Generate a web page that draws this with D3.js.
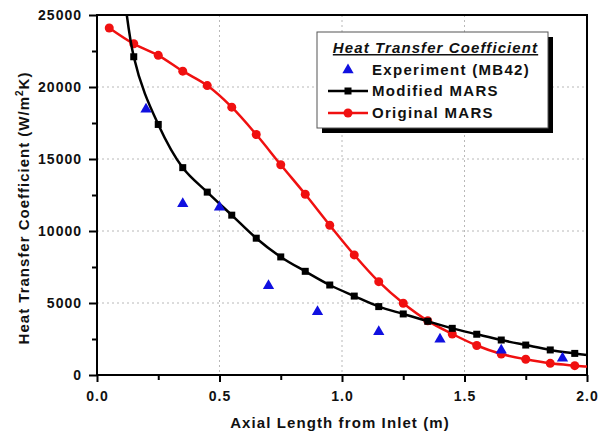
<!DOCTYPE html>
<html>
<head>
<meta charset="utf-8">
<script src="https://cdn.jsdelivr.net/npm/d3@7"></script>
<style>
  body { margin: 0; background: #fff; }
  svg { font-family: "Liberation Sans", Arial, sans-serif; }
</style>
</head>
<body>
<svg id="chart" width="605" height="437"></svg>
<script>
// data
const modX = [0.05, 0.15, 0.25, 0.35, 0.45, 0.55, 0.65, 0.75, 0.85, 0.95, 1.05, 1.15, 1.25, 1.35, 1.45, 1.55, 1.65, 1.75, 1.85, 1.95, 2.05];
const modY = [38000, 22100, 17400, 14400, 12700, 11100, 9500, 8200, 7200, 6250, 5480, 4750, 4240, 3730, 3240, 2830, 2430, 2080, 1740, 1500, 1300];
const origX = [0.05, 0.15, 0.25, 0.35, 0.45, 0.55, 0.65, 0.75, 0.85, 0.95, 1.05, 1.15, 1.25, 1.35, 1.45, 1.55, 1.65, 1.75, 1.85, 1.95, 2.05];
const origY = [24100, 23000, 22200, 21100, 20100, 18600, 16700, 14600, 12550, 10400, 8340, 6480, 4980, 3760, 2850, 2050, 1460, 1090, 810, 650, 520];
const expX = [0.2, 0.35, 0.5, 0.7, 0.9, 1.15, 1.4, 1.65, 1.9];
const expY = [18450, 11900, 11650, 6200, 4400, 3000, 2480, 1720, 1160];

const xMajor = [0.0, 0.5, 1.0, 1.5, 2.0];
const xMinor = [0.25, 0.75, 1.25, 1.75];
const yMajor = [0, 5000, 10000, 15000, 20000, 25000];
const yMinor = [2500, 7500, 12500, 17500, 22500];

const legendNames = ["Experiment (MB42)", "Modified MARS", "Original MARS"];

const red = "#f01010";
const blue = "#1010e0";

const svg = d3.select("#chart");
const pL = 97, pR = 587, pT = 15, pB = 375;

const x = d3.scaleLinear().domain([0, 2]).range([pL, pR]);
const y = d3.scaleLinear().domain([0, 25000]).range([pB, pT]);

svg.append("clipPath").attr("id", "clip")
  .append("rect")
  .attr("x", pL).attr("y", pT)
  .attr("width", pR - pL).attr("height", pB - pT);

// grid
const grid = svg.append("g")
  .attr("stroke", "#b8b8b8").attr("stroke-width", 1)
  .attr("stroke-dasharray", "2,3");
xMajor.slice(1, -1).forEach(v => {
  grid.append("line").attr("x1", x(v)).attr("x2", x(v)).attr("y1", pT).attr("y2", pB);
});
yMajor.slice(1, -1).forEach(v => {
  grid.append("line").attr("x1", pL).attr("x2", pR).attr("y1", y(v)).attr("y2", y(v));
});

// axes
function styleAxis(g) {
  g.select(".domain").remove();
  g.selectAll("line").attr("stroke", "#000").attr("stroke-width", 2);
  g.selectAll("text").attr("font-size", 14).attr("font-weight", "bold")
    .attr("letter-spacing", 1).attr("fill", "#111");
}
svg.append("g").attr("transform", `translate(0,${pB})`)
  .call(d3.axisBottom(x).tickValues(xMajor).tickFormat(d3.format(".1f")).tickSize(7).tickPadding(9))
  .call(styleAxis);
svg.append("g").attr("transform", `translate(0,${pB})`)
  .call(d3.axisBottom(x).tickValues(xMinor).tickFormat("").tickSize(5))
  .call(styleAxis);
svg.append("g").attr("transform", `translate(${pL},0)`)
  .call(d3.axisLeft(y).tickValues(yMajor).tickFormat(d3.format("d")).tickSize(8).tickPadding(7))
  .call(styleAxis);
svg.append("g").attr("transform", `translate(${pL},0)`)
  .call(d3.axisLeft(y).tickValues(yMinor).tickFormat("").tickSize(5))
  .call(styleAxis);

// frame
svg.append("rect")
  .attr("x", pL).attr("y", pT)
  .attr("width", pR - pL).attr("height", pB - pT)
  .attr("fill", "none").attr("stroke", "#000").attr("stroke-width", 2);

// series
const plot = svg.append("g").attr("clip-path", "url(#clip)");
const line = d3.line().x(d => x(d[0])).y(d => y(d[1])).curve(d3.curveCatmullRom.alpha(0.5));

const origData = origX.map((v, i) => [v, origY[i]]);
const modData = modX.map((v, i) => [v, modY[i]]);
const expData = expX.map((v, i) => [v, expY[i]]);

plot.append("path").datum(origData).attr("d", line)
  .attr("fill", "none").attr("stroke", red).attr("stroke-width", 2.5);
plot.selectAll(".oc").data(origData).join("circle")
  .attr("cx", d => x(d[0])).attr("cy", d => y(d[1])).attr("r", 4.5).attr("fill", red);

plot.append("path").datum(modData).attr("d", line)
  .attr("fill", "none").attr("stroke", "#000").attr("stroke-width", 2.5);
plot.selectAll(".ms").data(modData).join("rect")
  .attr("x", d => x(d[0]) - 3.5).attr("y", d => y(d[1]) - 3.5)
  .attr("width", 7).attr("height", 7).attr("fill", "#000");

const tri = d3.symbol().type(d3.symbolTriangle).size(55);
plot.selectAll(".et").data(expData).join("path")
  .attr("d", tri).attr("transform", d => `translate(${x(d[0])},${y(d[1])})`)
  .attr("fill", blue);

// axis titles
svg.append("text").attr("x", (pL + pR) / 2 - 2).attr("y", 428)
  .attr("text-anchor", "middle").attr("font-size", 15).attr("font-weight", "bold")
  .attr("letter-spacing", 1.1).attr("fill", "#111").text("Axial Length from Inlet (m)");

const yt = svg.append("text").attr("transform", "translate(29,208) rotate(-90)")
  .attr("text-anchor", "middle").attr("font-size", 15).attr("font-weight", "bold")
  .attr("letter-spacing", 1).attr("fill", "#111");
yt.append("tspan").text("Heat Transfer Coefficient (W/m");
yt.append("tspan").attr("font-size", 10).attr("dy", -6).text("2");
yt.append("tspan").attr("dy", 6).text("K)");

// legend
const lg = svg.append("g");
const lx = 317, ly = 32, lw = 231, lh = 96;
lg.append("rect").attr("x", lx + 5).attr("y", ly + 5).attr("width", lw).attr("height", lh).attr("fill", "#000");
lg.append("rect").attr("x", lx).attr("y", ly).attr("width", lw).attr("height", lh)
  .attr("fill", "#fff").attr("stroke", "#555").attr("stroke-width", 1);
lg.append("text").attr("x", lx + lw / 2 + 3).attr("y", ly + 21)
  .attr("text-anchor", "middle").attr("font-size", 15).attr("font-weight", "bold")
  .attr("font-style", "italic").attr("text-decoration", "underline")
  .attr("letter-spacing", 1.1).attr("fill", "#111")
  .text("Heat Transfer Coefficient");

const rowY = [ly + 38, ly + 59, ly + 81];
lg.append("path").attr("d", tri).attr("transform", `translate(348,${rowY[0]})`).attr("fill", blue);
lg.append("line").attr("x1", 328).attr("x2", 368).attr("y1", rowY[1]).attr("y2", rowY[1])
  .attr("stroke", "#000").attr("stroke-width", 2.5);
lg.append("rect").attr("x", 344.5).attr("y", rowY[1] - 3.5).attr("width", 7).attr("height", 7).attr("fill", "#000");
lg.append("line").attr("x1", 328).attr("x2", 368).attr("y1", rowY[2]).attr("y2", rowY[2])
  .attr("stroke", red).attr("stroke-width", 2.5);
lg.append("circle").attr("cx", 348).attr("cy", rowY[2]).attr("r", 4.5).attr("fill", red);

legendNames.forEach((n, i) => {
  lg.append("text").attr("x", 372).attr("y", rowY[i] + 5)
    .attr("font-size", 15).attr("font-weight", "bold").attr("letter-spacing", 1.3)
    .attr("fill", "#111").text(n);
});
</script>
</body>
</html>
